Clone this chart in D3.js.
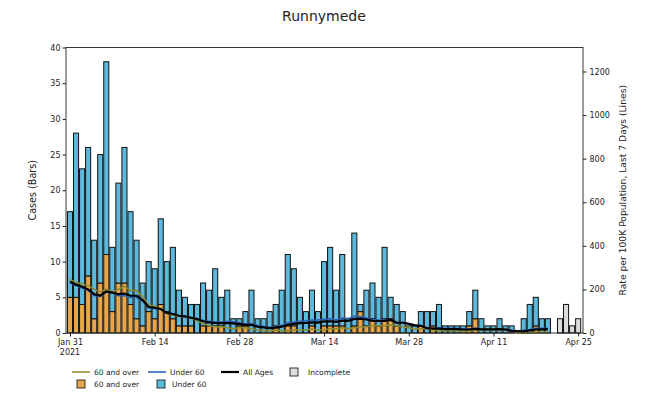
<!DOCTYPE html>
<html><head><meta charset="utf-8">
<script src="https://cdn.jsdelivr.net/npm/d3@7"></script>
<style>
body{margin:0;background:#fff}
text{font-family:"DejaVu Sans",sans-serif;fill:#222}
</style>
</head><body>
<svg id="chart" width="656" height="397"></svg>
<script>
// ---------- data ----------
const title = "Runnymede";
const startDate = "2021-01-31";            // first day shown
// daily cases, 60 and over (Jan 31 .. Apr 20)
const over60Cases = [
  5,5,4,8,2,7,11,3,7,7,
  4,2,1,3,2,4,3,2,1,1,
  1,0,1,1,1,1,0,0,1,1,
  0,0,0,0,1,0,1,1,0,0,
  1,0,1,1,1,1,0,1,3,1,
  2,1,2,2,1,0,0,0,1,0,
  1,0,0,0,0,0,1,2,0,0,
  0,0,0,0,0,0,0,1,0,0];
// daily cases, under 60 (Jan 31 .. Apr 20)
const under60Cases = [
  12,23,19,18,11,18,27,9,14,19,
  13,11,6,7,7,12,7,10,5,4,
  3,4,6,5,8,4,6,2,1,2,
  6,2,2,3,3,6,10,8,5,3,
  5,3,9,11,5,10,2,13,1,5,
  5,4,10,3,3,3,1,1,2,3,
  2,4,1,1,1,1,2,4,2,1,
  1,2,1,1,0,2,4,4,2,2];
// incomplete days (Apr 21 .. Apr 25), all ages
const incompleteCases = [0,2,4,1,2];
// 7-day rate per 100k (Jan 31 .. Apr 20)
const rateAllAges = [
  235,222,212,200,178,172,191,185,178,181,
  171,171,151,119,116,110,92,87,79,76,
  70,64,54,49,46,45,46,44,42,37,
  37,29,26,22,25,29,38,42,45,46,
  49,48,53,54,51,57,56,65,66,62,
  56,55,56,60,48,47,42,35,33,22,
  20,20,18,18,18,16,16,19,17,17,
  17,18,16,10,8,9,12,16,17,18];
const rateUnder60 = [
  230,218,207,196,172,168,188,184,171,171,
  163,163,146,116,113,110,93,88,79,76,
  71,66,57,54,51,50,53,51,47,41,
  43,34,31,26,28,35,47,50,54,56,
  59,59,63,65,60,68,66,78,75,69,
  60,59,59,60,46,49,43,37,34,24,
  22,24,21,21,21,19,18,21,18,18,
  18,19,18,13,10,12,16,21,21,22];
const rateOver60 = [
  245,232,225,218,200,190,200,190,200,214,
  195,195,167,129,124,109,90,81,76,76,
  67,57,43,33,29,29,24,19,24,24,
  19,14,10,10,14,10,10,14,14,14,
  19,14,14,19,19,24,19,24,29,29,
  33,33,33,38,33,29,24,19,19,19,
  14,10,10,10,10,5,10,14,14,14,
  14,14,14,10,0,0,0,5,5,5];
const leftTicks = [0,5,10,15,20,25,30,35,40];
const rightTicks = [0,200,400,600,800,1000,1200];
const xTickDates = ["2021-01-31","2021-02-14","2021-02-28","2021-03-14","2021-03-28","2021-04-11","2021-04-25"];
const xTickLabels = ["Jan 31","Feb 14","Feb 28","Mar 14","Mar 28","Apr 11","Apr 25"];
const yLabelLeft = "Cases (Bars)";
const yLabelRight = "Rate per 100K Population, Last 7 Days (Lines)";

// ---------- chart ----------
const C = {blue:"#5db9db", orange:"#e8a64a", grey:"#dcdcdc",
           lOver:"#8e8a2c", lUnder:"#2a62b8", lAll:"#000"};
const svg = d3.select("#chart");
svg.append("rect").attr("width",656).attr("height",397).attr("fill","#fff");
const L=66, R=583, T=47.5, B=333;
const parse = d3.utcParse("%Y-%m-%d");
const d0 = parse(startDate);
const day = i => d3.utcDay.offset(d0, i);
const x = d3.scaleUtc()
  .domain([new Date(+d0 - 0.66*864e5), new Date(+d0 + 84.8*864e5)])
  .range([L,R]);
const yL = d3.scaleLinear().domain([0,40]).range([B,T]);
const yR = d3.scaleLinear().domain([0,1310]).range([B,T]);
const bw = x(day(1)) - x(day(0));
const w = bw*0.84;

const bars = svg.append("g").attr("stroke","#111").attr("stroke-width",1);
over60Cases.forEach((o,i)=>{
  const u = under60Cases[i];
  const cx = x(day(i));
  if (o>0) bars.append("rect").attr("x",cx-w/2).attr("width",w)
      .attr("y",yL(o)).attr("height",yL(0)-yL(o)).attr("fill",C.orange);
  if (u>0) bars.append("rect").attr("x",cx-w/2).attr("width",w)
      .attr("y",yL(o+u)).attr("height",yL(o)-yL(o+u)).attr("fill",C.blue);
});
const nComplete = over60Cases.length;
incompleteCases.forEach((v,j)=>{
  if (v<=0) return;
  const cx = x(day(nComplete+j));
  bars.append("rect").attr("x",cx-w/2).attr("width",w)
    .attr("y",yL(v)).attr("height",yL(0)-yL(v)).attr("fill",C.grey);
});

const line = d3.line().x((d,i)=>x(day(i))).y(d=>yR(d)).curve(d3.curveLinear);
svg.append("path").datum(rateOver60).attr("d",line).attr("fill","none")
  .attr("stroke",C.lOver).attr("stroke-width",1.5);
svg.append("path").datum(rateUnder60).attr("d",line).attr("fill","none")
  .attr("stroke",C.lUnder).attr("stroke-width",1.6);
svg.append("path").datum(rateAllAges).attr("d",line).attr("fill","none")
  .attr("stroke",C.lAll).attr("stroke-width",2.2);

// frame
svg.append("rect").attr("x",L).attr("y",T).attr("width",R-L).attr("height",B-T)
  .attr("fill","none").attr("stroke","#222").attr("stroke-width",0.9);

// axes
const gl = svg.append("g").attr("transform",`translate(${L},0)`)
  .call(d3.axisLeft(yL).tickValues(leftTicks).tickSize(3.5).tickPadding(2)
    .tickFormat(d3.format("d")));
const gr = svg.append("g").attr("transform",`translate(${R},0)`)
  .call(d3.axisRight(yR).tickValues(rightTicks).tickSize(3.5).tickPadding(3)
    .tickFormat(d3.format("d")));
const xd = xTickDates.map(parse);
const gx = svg.append("g").attr("transform",`translate(0,${B})`)
  .call(d3.axisBottom(x).tickValues(xd).tickSize(3.5).tickPadding(3)
    .tickFormat((d,i)=>xTickLabels[i]));
[gl,gr,gx].forEach(g=>{
  g.select(".domain").remove();
  g.selectAll("line").attr("stroke","#222");
  g.selectAll("text").attr("font-size",8).attr("fill","#222")
    .style("font-family","'DejaVu Sans',sans-serif");
});
gx.append("text").attr("x",x(xd[0])).attr("y",22).attr("text-anchor","middle")
  .attr("font-size",8).attr("fill","#222").text("2021");

// labels
svg.append("text").attr("x",324).attr("y",21).attr("text-anchor","middle")
  .attr("font-size",14).text(title);
svg.append("text").attr("transform",`translate(36,${(T+B)/2}) rotate(-90)`)
  .attr("text-anchor","middle").attr("font-size",9.6).text(yLabelLeft);
svg.append("text").attr("transform",`translate(626,${(T+B)/2}) rotate(-90)`)
  .attr("text-anchor","middle").attr("font-size",9.2).text(yLabelRight);

// legend
const lg = svg.append("g").attr("font-size",7.5);
const row1 = 372, row2 = 384;
const lineItems = [
  {x:72, c:C.lOver, w:1.5, t:"60 and over"},
  {x:148, c:C.lUnder, w:1.6, t:"Under 60"},
  {x:221, c:C.lAll, w:2.2, t:"All Ages"}];
lineItems.forEach(d=>{
  lg.append("line").attr("x1",d.x).attr("x2",d.x+18).attr("y1",row1).attr("y2",row1)
    .attr("stroke",d.c).attr("stroke-width",d.w);
  lg.append("text").attr("x",d.x+22).attr("y",row1+2.7).attr("font-size",7.5).text(d.t);
});
const boxItems = [
  {x:290, y:row1, c:C.grey, t:"Incomplete", tx:308},
  {x:77, y:row2, c:C.orange, t:"60 and over", tx:94},
  {x:157, y:row2, c:C.blue, t:"Under 60", tx:172}];
boxItems.forEach(d=>{
  lg.append("rect").attr("x",d.x).attr("y",d.y-4).attr("width",8).attr("height",8)
    .attr("fill",d.c).attr("stroke","#222").attr("stroke-width",0.9);
  lg.append("text").attr("x",d.tx).attr("y",d.y+2.7).attr("font-size",7.5).text(d.t);
});
</script>
</body></html>
